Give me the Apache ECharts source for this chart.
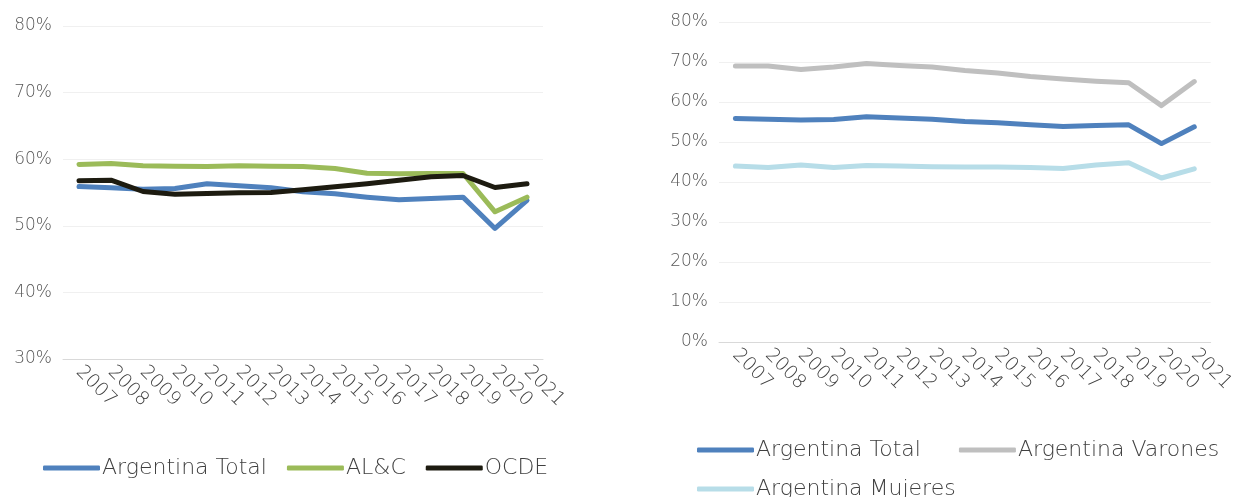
<!DOCTYPE html>
<html>
<head>
<meta charset="utf-8">
<script src="https://cdn.jsdelivr.net/npm/echarts@6/dist/echarts.min.js"></script>
<style>
  html, body { margin: 0; padding: 0; background: #ffffff; }
  #chart { width: 1237px; height: 497px; }
</style>
</head>
<body>
<div id="chart"></div>
<script>
// Tasa de actividad (%) 2007-2021
const years = ['2007', '2008', '2009', '2010', '2011', '2012', '2013', '2014',
               '2015', '2016', '2017', '2018', '2019', '2020', '2021'];

const argentinaTotal = [55.9, 55.7, 55.5, 55.6, 56.3, 56.0, 55.7, 55.1, 54.8, 54.3, 53.9, 54.1, 54.3, 49.6, 53.8];
const alc            = [59.2, 59.35, 59.0, 58.95, 58.9, 59.0, 58.95, 58.9, 58.6, 57.9, 57.8, 57.85, 57.85, 52.1, 54.3];
const ocde           = [56.75, 56.85, 55.15, 54.75, 54.85, 54.95, 55.0, 55.4, 55.85, 56.3, 56.85, 57.35, 57.55, 55.75, 56.3];

const argentinaVarones = [69.0, 69.0, 68.1, 68.75, 69.6, 69.1, 68.75, 67.9, 67.25, 66.4, 65.75, 65.2, 64.8, 59.1, 65.1];
const argentinaMujeres = [44.0, 43.6, 44.25, 43.6, 44.1, 44.0, 43.8, 43.75, 43.75, 43.6, 43.4, 44.25, 44.8, 41.0, 43.3];

const leftTicks  = { min: 30, max: 80, interval: 10 };
const rightTicks = { min: 0,  max: 80, interval: 10 };

const FONT = 'DejaVu Sans';
const WEIGHT = 200;
const colors = {
  total: '#4f81bd',
  alc: '#9bbb59',
  ocde: '#1d1b10',
  varones: '#bfbfbf',
  mujeres: '#b7dde8'
};

function xAxisFor(gridIndex) {
  return {
    type: 'category',
    gridIndex: gridIndex,
    data: years,
    boundaryGap: true,
    axisTick: { show: false },
    axisLine: { show: true, lineStyle: { color: '#d9d9d9', width: 1 } },
    axisLabel: {
      interval: 0,
      rotate: -45,
      margin: 10,
      color: '#404040',
      fontFamily: FONT,
      fontWeight: WEIGHT,
      fontSize: 19
    }
  };
}

function yAxisFor(gridIndex, ticks, size) {
  return {
    type: 'value',
    gridIndex: gridIndex,
    min: ticks.min,
    max: ticks.max,
    interval: ticks.interval,
    axisLine: { show: false },
    axisTick: { show: false },
    splitLine: { lineStyle: { color: '#f0f0f0', width: 1 } },
    axisLabel: {
      formatter: '{value}%',
      margin: 11,
      color: '#595959',
      fontFamily: FONT,
      fontWeight: WEIGHT,
      fontSize: size
    }
  };
}

function lineSeries(name, data, color, idx) {
  return {
    name: name,
    type: 'line',
    xAxisIndex: idx,
    yAxisIndex: idx,
    data: data,
    symbol: 'none',
    smooth: false,
    lineStyle: { color: color, width: 5, cap: 'round', join: 'round' },
    itemStyle: { color: color },
    emphasis: { disabled: true },
    animation: false
  };
}

const legendBase = {
  icon: 'roundRect',
  itemWidth: 57,
  itemHeight: 5,
  itemGap: 20,
  selectedMode: false,
  textStyle: { color: '#404040', fontFamily: FONT, fontWeight: WEIGHT, fontSize: 22, padding: [0, 0, 0, -3] }
};

const chart = echarts.init(document.getElementById('chart'), null, { renderer: 'canvas' });

chart.setOption({
  backgroundColor: '#ffffff',
  animation: false,
  grid: [
    { left: 63, top: 26, width: 480, height: 333, containLabel: false },
    { left: 719, top: 22, width: 501, height: 320, containLabel: false }
  ],
  xAxis: [xAxisFor(0), xAxisFor(1)],
  yAxis: [yAxisFor(0, leftTicks, 17), yAxisFor(1, rightTicks, 17)],
  legend: [
    Object.assign({}, legendBase, { left: 38, top: 452, data: ['Argentina Total', 'AL&C', 'OCDE'] }),
    Object.assign({}, legendBase, { left: 692, top: 434, itemGap: 38, data: ['Argentina Total', 'Argentina Varones'] }),
    Object.assign({}, legendBase, { left: 692, top: 473, data: ['Argentina Mujeres'] })
  ],
  series: [
    lineSeries('Argentina Total', argentinaTotal, colors.total, 0),
    lineSeries('AL&C', alc, colors.alc, 0),
    lineSeries('OCDE', ocde, colors.ocde, 0),
    lineSeries('Argentina Total', argentinaTotal, colors.total, 1),
    lineSeries('Argentina Varones', argentinaVarones, colors.varones, 1),
    lineSeries('Argentina Mujeres', argentinaMujeres, colors.mujeres, 1)
  ]
});
</script>
</body>
</html>
